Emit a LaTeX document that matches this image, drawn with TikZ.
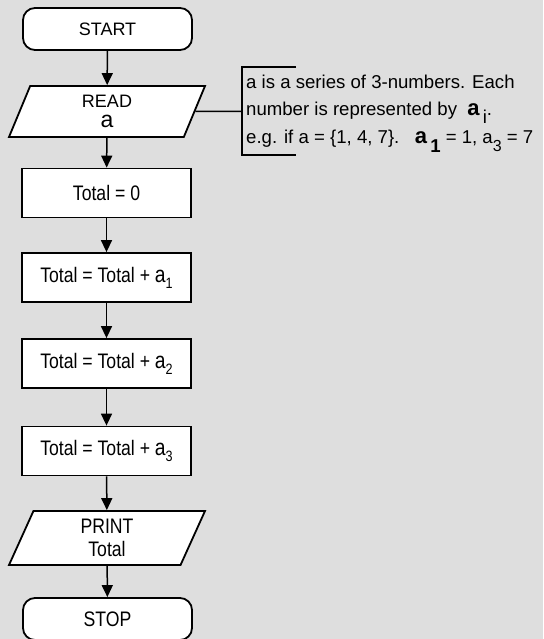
\documentclass[tikz,border=0pt]{standalone}
\usepackage{fontspec}
\setmainfont{Liberation Sans}
\newfontfamily\narrowfont{Liberation Sans}[FakeStretch=0.84]
\usetikzlibrary{arrows.meta, shapes.geometric}
\definecolor{chartgray}{RGB}{222,222,222}
\newcommand{\bigvar}{{\fontsize{23}{23}\selectfont a}}
\newcommand{\lowidx}[1]{\raisebox{-6pt}{\fontsize{15}{15}\selectfont #1}}

\begin{document}
\begin{tikzpicture}[
  x=1pt, y=-1pt,
  term/.style={rectangle, rounded corners=12pt, draw, line width=1.8pt, fill=white,
               minimum width=169pt, minimum height=42pt,
               font=\fontsize{18}{22}\selectfont},
  io/.style={trapezium, trapezium left angle=57, trapezium right angle=123,
             trapezium stretches body, draw, line width=1.8pt, fill=white,
             minimum width=196pt, minimum height=51pt, align=center, inner sep=0pt},
  proc/.style={rectangle, draw, line width=1.8pt, fill=white,
               minimum width=169pt, minimum height=49pt,
               font=\narrowfont\fontsize{21}{24}\selectfont},
  arr/.style={-{Triangle[length=12pt,width=11pt]}, line width=1.5pt},
  link/.style={line width=1.5pt}
]
  %% -- page
  \fill[chartgray] (0,0) rectangle (543,639);
  \useasboundingbox (0,0) rectangle (543,639);

  %% Flowchart steps
  \node[term] (start) at (107.5,29)  {START};
  \node[io, font=\fontsize{18}{17}\selectfont] (read) at (107,111.5) {READ\\[3pt]\bigvar};
  \node[proc] (init)  at (106.5,193)   {Total = 0};
  \node[proc] (add1)  at (106.5,277.5) {Total = Total + \bigvar\lowidx{1}};
  \node[proc] (add2)  at (106.5,363.5) {Total = Total + \bigvar\lowidx{2}};
  \node[proc] (add3)  at (106.5,451)   {Total = Total + \bigvar\lowidx{3}};
  \node[io, minimum height=54pt, font=\narrowfont\fontsize{21}{23}\selectfont] (print) at (107,538)
    {PRINT\\Total};
  \node[term, font=\narrowfont\fontsize{21}{22}\selectfont] (stop) at (107.5,619) {STOP};

  \draw[arr] (start) -- (read);
  \draw[arr] (read)  -- (init);
  \draw[arr] (init)  -- (add1);
  \draw[arr] (add1)  -- (add2);
  \draw[arr] (add2)  -- (add3);
  \draw[arr] (add3)  -- (print);
  \draw[arr] (print) -- (stop);

  %% Annotation
  \coordinate (brktop) at (242,67);
  \coordinate (brkmid) at (242,111.5);
  \coordinate (brkbot) at (242,155);
  \draw[link] (296,67) -- (brktop) -- (brkbot) -- (296,155);
  \draw[link] (read.east) -- (brkmid);

  \node[anchor=north west, inner sep=0pt, align=left,
        font=\fontsize{18.6}{27.5}\selectfont] (note) at (246,74.5)
    {a is a series of 3-numbers. Each\\
     number is represented by\ \ {\bfseries\fontsize{22}{22}\selectfont a}\,\raisebox{-8pt}{i}.\\
     e.g. if a = \{1, 4, 7\}.\ \ \ {\bfseries\fontsize{22}{22}\selectfont a}\,\raisebox{-9pt}{\bfseries 1} = 1, a\raisebox{-8pt}{\fontsize{16}{16}\selectfont 3} = 7};

\end{tikzpicture}
\end{document}
